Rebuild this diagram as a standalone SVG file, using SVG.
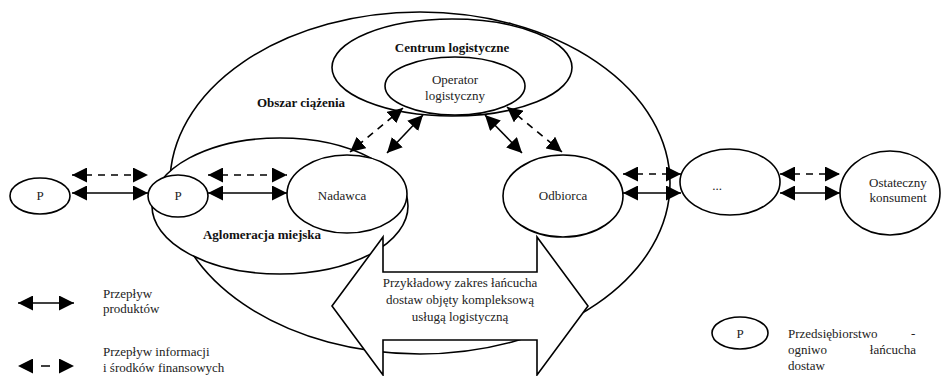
<svg xmlns="http://www.w3.org/2000/svg" width="943" height="376" viewBox="0 0 943 376">
<defs>
<style>
.sh{fill:#fff;stroke:#000;stroke-width:1.6}
.t{font-family:"Liberation Serif","Times New Roman",serif;font-size:13px;fill:#222}
.b{font-weight:bold;fill:#111}
.m{text-anchor:middle}
.ln{stroke:#000;stroke-width:1.6;fill:none;marker-start:url(#ah);marker-end:url(#ah)}
.d{stroke-dasharray:7 6}
</style>
<marker id="ah" viewBox="0 0 10 10" refX="10" refY="5" markerUnits="userSpaceOnUse" markerWidth="15" markerHeight="15" orient="auto-start-reverse">
<path d="M0,0 L10,5 L0,10 z" fill="#000"/>
</marker>
</defs>
<rect width="943" height="376" fill="#fff"/>

<g id="obszar">
<ellipse class="sh" cx="420" cy="183" rx="250" ry="171"/>
<text class="t b m" x="301" y="107">Obszar ciążenia</text>
</g>
<g id="aglomeracja">
<ellipse class="sh" cx="280" cy="206" rx="128" ry="68"/>
<text class="t b m" x="262" y="239">Aglomeracja miejska</text>
</g>
<g id="centrum">
<ellipse class="sh" cx="452" cy="67.5" rx="120" ry="48.5"/>
<text class="t b m" x="452" y="52">Centrum logistyczne</text>
</g>
<g id="operator">
<ellipse class="sh" cx="455" cy="86" rx="70" ry="29"/>
<text class="t m" x="455" y="84">Operator</text>
<text class="t m" x="455" y="100">logistyczny</text>
</g>
<g id="p1">
<ellipse class="sh" cx="40" cy="196" rx="30" ry="18"/>
<text class="t m" x="40" y="200">P</text>
</g>
<g id="p2">
<ellipse class="sh" cx="178" cy="196" rx="30" ry="21"/>
<text class="t m" x="178" y="200">P</text>
</g>
<g id="nadawca">
<ellipse class="sh" cx="347" cy="194" rx="60" ry="39"/>
<text class="t m" x="342" y="200">Nadawca</text>
</g>
<g id="odbiorca">
<ellipse class="sh" cx="563" cy="196" rx="60" ry="41"/>
<text class="t m" x="563" y="200">Odbiorca</text>
</g>
<g id="kropki">
<ellipse class="sh" cx="730" cy="182" rx="50" ry="33"/>
<text class="t m" x="717" y="190">...</text>
</g>
<g id="konsument">
<ellipse class="sh" cx="890" cy="193" rx="50" ry="42"/>
<text class="t m" x="898" y="187">Ostateczny</text>
<text class="t m" x="898" y="202">konsument</text>
</g>

<g id="connectors">
<line class="ln d" x1="72" y1="175" x2="148" y2="175"/>
<line class="ln" x1="72" y1="193" x2="148" y2="193"/>
<line class="ln d" x1="208" y1="175" x2="287" y2="175"/>
<line class="ln" x1="208" y1="193" x2="287" y2="193"/>
<line class="ln d" x1="623" y1="174" x2="681" y2="174"/>
<line class="ln" x1="623" y1="193" x2="681" y2="193"/>
<line class="ln d" x1="780" y1="174" x2="840" y2="174"/>
<line class="ln" x1="780" y1="193" x2="840" y2="193"/>
<line class="ln d" x1="403" y1="108" x2="350" y2="152"/>
<line class="ln" x1="423" y1="115" x2="387" y2="153"/>
<line class="ln" x1="485" y1="115" x2="522" y2="153"/>
<line class="ln d" x1="507" y1="107" x2="562" y2="152"/>
</g>

<g id="zakres">
<polygon class="sh" points="332,306 383,237 383,272 537,272 537,237 588,306 537,375 537,340 383,340 383,375"/>
<text class="t m" x="460" y="287">Przykładowy zakres łańcucha</text>
<text class="t m" x="460" y="304">dostaw objęty kompleksową</text>
<text class="t m" x="460" y="321">usługą logistyczną</text>
</g>

<g id="legenda">
<line class="ln" x1="18" y1="303" x2="74" y2="303"/>
<line class="ln d" x1="18" y1="366" x2="74" y2="366" style="stroke-dasharray:0 23 9 100"/>
<text class="t" x="103" y="356">Przepływ informacji</text>
<text class="t" x="103" y="298">Przepływ</text>
<text class="t" x="103" y="313">produktów</text>
<text class="t" x="103" y="372">i środków finansowych</text>
<ellipse class="sh" cx="740" cy="333" rx="28" ry="16"/>
<text class="t m" x="740" y="338">P</text>
<text class="t" x="788" y="338">Przedsiębiorstwo</text>
<text class="t" x="911" y="338">-</text>
<text class="t" x="788" y="354">ogniwo</text>
<text class="t" x="916" y="354" text-anchor="end">łańcucha</text>
<text class="t" x="788" y="370">dostaw</text>
</g>
</svg>
